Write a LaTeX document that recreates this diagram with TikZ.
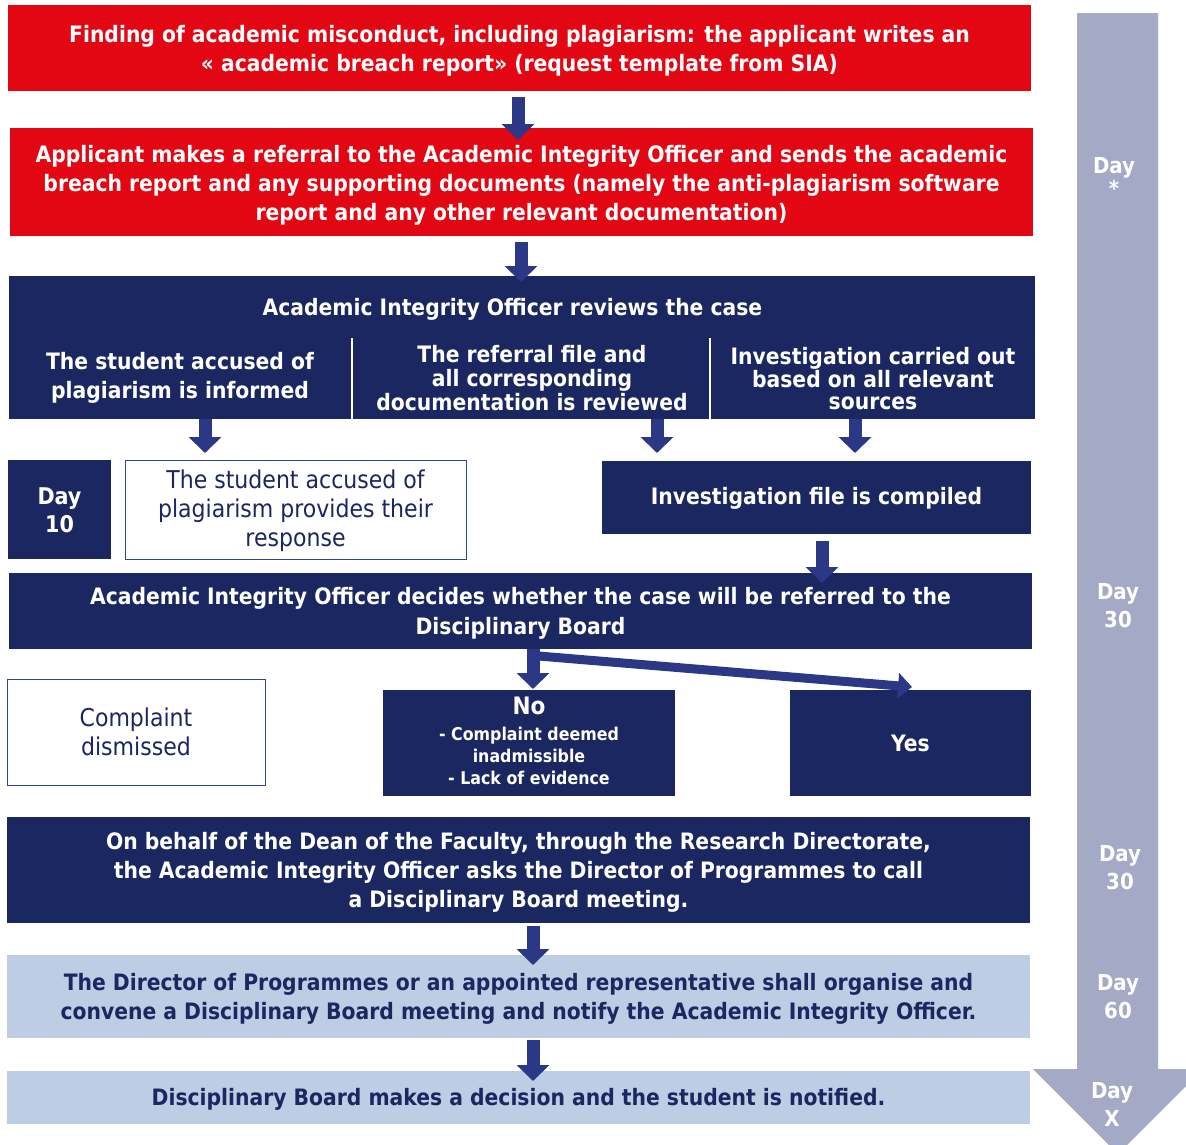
\documentclass[tikz,border=0pt]{standalone}
\usepackage{fontspec}
\setmainfont{DejaVu Sans Condensed}
\usetikzlibrary{arrows.meta}
\definecolor{ured}{HTML}{E30613}
\definecolor{unavy}{HTML}{1B2761}
\definecolor{uarrow}{HTML}{2A3886}
\definecolor{ulight}{HTML}{BDCDE3}
\definecolor{ugrey}{HTML}{A4AAC5}
\definecolor{uborder}{HTML}{34448C}
\tikzset{
  box/.style={inner sep=0pt},
  redbox/.style={box, fill=ured},
  navybox/.style={box, fill=unavy},
  lightbox/.style={box, fill=ulight},
  whitebox/.style={box, fill=white, draw=uborder, line width=1pt},
  txt/.style={inner sep=0pt, align=center, text=white, font=\bfseries\fontsize{22.6}{29}\selectfont},
  dtxt/.style={txt, text=unavy},
  rtxt/.style={inner sep=0pt, align=center, text=unavy, font=\fontsize{24.5}{29}\selectfont},
  daylbl/.style={inner sep=0pt, align=center, text=white, font=\bfseries\fontsize{22}{28}\selectfont},
  flow/.style={-{Triangle[width=32pt,length=16pt]}, line width=13pt, draw=uarrow},
  thinflow/.style={-{Triangle[width=25pt,length=14pt]}, line width=9pt, draw=uarrow},
}
\begin{document}
\begin{tikzpicture}[x=1pt,y=-1pt]
\useasboundingbox (0,0) rectangle (1186,1144);
\clip (0,0) rectangle (1186,1144);
% timeline arrow
\fill[ugrey] (1077,13) -- (1158,13) -- (1158,1069) -- (1203,1069) -- (1118,1154) -- (1033,1069) -- (1077,1069) -- cycle;
\node[daylbl] (dA) at (1114,177) {Day\\[-5pt]*};
\node[daylbl] (dB) at (1118,606) {Day\\30};
\node[daylbl] (dC) at (1120,868) {Day\\30};
\node[daylbl] (dD) at (1118,997) {Day\\60};
\node[daylbl] (dE) at (1112,1104) {Day\\X};

% boxes
\node[redbox, minimum width=1023, minimum height=86] (b1) at (519.5,48) {};
\node[txt] (b1t) at ([yshift=-3pt]b1.center)
  {Finding of academic misconduct, including plagiarism: the applicant writes an\\
   « academic breach report» (request template from SIA)};
\node[redbox, minimum width=1023, minimum height=108] (b2) at (521.5,182) {};
\node[txt] (b2t) at ([yshift=-3pt]b2.center)
  {Applicant makes a referral to the Academic Integrity Officer and sends the academic\\
   breach report and any supporting documents (namely the anti-plagiarism software\\
   report and any other relevant documentation)};
\node[navybox, minimum width=1026, minimum height=143] (b3) at (522,347.5) {};
\node[txt] (t3) at (512.5,309) {Academic Integrity Officer reviews the case};
\draw[white, line width=1.5pt] (352,338) -- (352,419);
\draw[white, line width=1.5pt] (710,338) -- (710,419);
\node[txt] (cL) at (180,378) {The student accused of\\plagiarism is informed};
\node[txt, font=\bfseries\fontsize{22.6}{24}\selectfont] (cM) at (532,378.5) {The referral file and\\all corresponding\\documentation is reviewed};
\node[txt, font=\bfseries\fontsize{22.6}{22}\selectfont] (cR) at (873,379) {Investigation carried out\\based on all relevant\\sources};

\node[navybox, minimum width=103, minimum height=99] (d10) at (59.5,509.5) {};
\node[txt, font=\bfseries\fontsize{23}{28}\selectfont] (d10t) at ([yshift=-1pt]d10.center) {Day\\10};
\node[whitebox, minimum width=341, minimum height=99] (resp) at (295.5,509.5) {};
\node[rtxt] (respt) at ([yshift=-1pt]resp.center)
  {The student accused of\\plagiarism provides their\\response};
\node[navybox, minimum width=429, minimum height=73] (inv) at (816.5,497.5) {};
\node[txt] (invt) at ([yshift=-1pt]inv.center) {Investigation file is compiled};

\node[navybox, minimum width=1023, minimum height=76] (dec) at (520.5,611) {};
\node[txt, font=\bfseries\fontsize{22.6}{30}\selectfont] (dect) at ([yshift=-2.5pt]dec.center)
  {Academic Integrity Officer decides whether the case will be referred to the\\Disciplinary Board};

\node[whitebox, minimum width=258, minimum height=106] (dis) at (136,732) {};
\node[rtxt] (dist) at (dis.center) {Complaint\\dismissed};
\node[navybox, minimum width=292, minimum height=106] (no) at (529,743) {};
\node[txt, font=\bfseries\fontsize{24}{29}\selectfont] (noT) at (529,706) {No};
\node[txt, font=\bfseries\fontsize{17.6}{22}\selectfont] (noL) at (529,755.5) {- Complaint deemed\\inadmissible\\- Lack of evidence};
\node[navybox, minimum width=241, minimum height=106] (yes) at (910.5,743) {};
\node[txt] (yest) at (yes.center) {Yes};

\node[navybox, minimum width=1023, minimum height=106] (dean) at (518.5,870) {};
\node[txt] (deant) at ([yshift=-2pt]dean.center)
  {On behalf of the Dean of the Faculty, through the Research Directorate,\\
   the Academic Integrity Officer asks the Director of Programmes to call\\
   a Disciplinary Board meeting.};
\node[lightbox, minimum width=1023, minimum height=83] (dir) at (518.5,996.5) {};
\node[dtxt] (dirt) at ([yshift=-2.5pt]dir.center)
  {The Director of Programmes or an appointed representative shall organise and\\
   convene a Disciplinary Board meeting and notify the Academic Integrity Officer.};
\node[lightbox, minimum width=1023, minimum height=53] (fin) at (518.5,1097.5) {};
\node[dtxt] (fint) at ([yshift=-1.5pt]fin.center)
  {Disciplinary Board makes a decision and the student is notified.};

% connectors
\coordinate (a1) at (518,140);
\draw[flow] (a1 |- b1.south) ++(0,6) -- (a1);
\coordinate (a2) at (521,282);
\draw[flow] (a2 |- b2.south) ++(0,6) -- (a2);
\coordinate (aL) at (205,453);
\coordinate (aM) at (657,453);
\coordinate (aR) at (855,453);
\draw[flow] (aL |- b3.south) -- (aL);
\draw[flow] (aM |- b3.south) -- (aM);
\draw[flow] (aR |- b3.south) -- (aR);
\coordinate (a3) at (822,583);
\draw[flow] (a3 |- inv.south) ++(0,7) -- (a3);
\coordinate (aNo) at (533,689);
\coordinate (aYes) at (912,687);
\draw[flow] (aNo |- dec.south) -- (aNo);
\draw[thinflow] ([xshift=-4pt,yshift=-6pt]aNo |- dec.south) -- (aYes);
\coordinate (a4) at (533,965);
\draw[flow] (a4 |- dean.south) ++(0,3) -- (a4);
\coordinate (a5) at (533,1081);
\draw[flow] (a5 |- dir.south) ++(0,2) -- (a5);
\end{tikzpicture}
\end{document}
